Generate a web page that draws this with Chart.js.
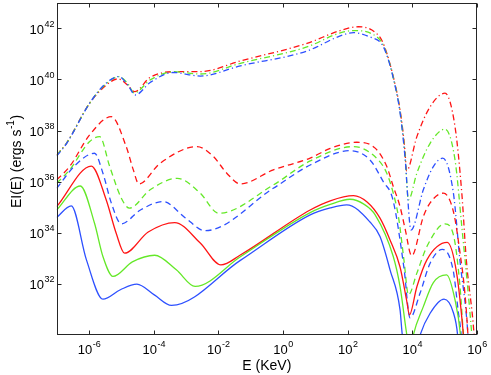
<!DOCTYPE html>
<html>
<head>
<meta charset="utf-8">
<script src="https://cdn.jsdelivr.net/npm/chart.js@4.4.0/dist/chart.umd.min.js"></script>
<style>
  html, body { margin: 0; padding: 0; background: #fff; }
  canvas { display: block; }
</style>
</head>
<body>
<canvas id="chart" width="491" height="375"></canvas>
<script>
// All values are log10: E in KeV, EI(E) in ergs s^-1
const xTicks = [-6, -4, -2, 0, 2, 4, 6];
const yTicks = [32, 34, 36, 38, 40, 42];

// solid
const redSolidE = [-7, -5.93, -5.47, -5.16, -4.90, -4.17, -3.35, -2.56, -1.92, -1.32, 0.84, 1.46, 2.18, 2.6, 3.00, 3.31, 3.62, 3.83, 3.91, 4.14, 4.45, 5.08, 5.37, 5.58, 5.7];
const redSolidL = [35.02, 36.61, 35.29, 33.98, 33.20, 34.03, 34.40, 33.60, 32.74, 33.13, 34.89, 35.25, 35.45, 35.2, 34.57, 33.72, 32.66, 31.31, 30.79, 31.89, 32.94, 33.62, 32.42, 30.0, 28];
const greenSolidE = [-7, -6.27, -5.83, -5.57, -5.26, -4.66, -3.97, -3.30, -2.72, -1.32, 0.84, 1.46, 2.07, 2.5, 2.85, 3.41, 3.62, 3.83, 3.93, 4.03, 4.34, 4.65, 5.06, 5.32, 5.49, 5.6];
const greenSolidL = [34.89, 35.83, 34.37, 33.07, 32.29, 32.86, 33.12, 32.55, 31.90, 33.06, 34.79, 35.11, 35.31, 35.12, 34.70, 33.07, 31.89, 30, 29.3, 30, 31.11, 32.05, 32.35, 31.37, 30, 28];
const blueSolidE = [-7, -6.55, -6.08, -5.57, -5.03, -4.52, -3.98, -3.45, -1.32, 0.84, 1.46, 1.97, 2.69, 3.00, 3.31, 3.62, 3.69, 3.96, 4.24, 4.55, 4.98, 5.27, 5.40, 5.5];
const blueSolidL = [34.6, 35.05, 32.94, 31.40, 31.77, 31.99, 31.57, 31.16, 32.92, 34.70, 34.97, 35.09, 34.42, 33.85, 32.55, 30.98, 30, 28.6, 30, 30.85, 31.40, 30.87, 30, 28];

// dashed
const redDashE = [-7, -6.60, -5.98, -5.31, -4.85, -4.63, -4.46, -3.80, -2.66, -2.15, -1.74, -1.32, -0.30, 0.84, 1.46, 2.28, 2.85, 3.21, 3.41, 3.62, 3.77, 3.98, 4.34, 4.55, 4.96, 5.27, 5.47, 5.63, 5.72, 5.8];
const redDashL = [36.07, 36.59, 37.83, 38.54, 37.37, 36.46, 35.91, 36.72, 37.37, 36.98, 36.33, 35.91, 36.46, 36.92, 37.30, 37.54, 37.31, 36.59, 35.81, 35.02, 34.19, 33.10, 34.63, 35.17, 35.55, 34.83, 33.26, 31.57, 30, 28];
const greenDashE = [-7, -6.60, -5.98, -5.67, -5.36, -5.00, -4.75, -4.11, -3.27, -2.56, -1.99, -0.30, 0.84, 2.18, 2.85, 3.21, 3.41, 3.57, 3.74, 3.88, 4.14, 4.45, 5.01, 5.27, 5.47, 5.58, 5.7];
const greenDashL = [35.94, 36.46, 37.57, 37.76, 36.59, 35.35, 34.96, 35.68, 36.13, 35.55, 34.76, 35.87, 36.81, 37.37, 36.97, 36.33, 35.55, 34.63, 32.94, 31.57, 32.42, 33.46, 34.35, 33.92, 31.96, 30, 28];
const blueDashE = [-7, -6.42, -5.83, -5.57, -5.31, -5.00, -4.41, -3.71, -3.02, -2.41, -0.30, 0.84, 2.07, 2.69, 3.10, 3.40, 3.74, 3.93, 4.24, 4.55, 4.93, 5.27, 5.42, 5.51, 5.6];
const blueDashL = [35.74, 36.65, 37.11, 36.33, 35.16, 34.35, 34.89, 35.22, 34.58, 34.08, 35.74, 36.65, 37.21, 36.85, 36.00, 35.29, 32.63, 30.67, 31.64, 32.81, 33.35, 32.48, 30.92, 30, 28];

// dash-dot
const redDotE = [-7, -6.70, -5.98, -5.50, -5.10, -4.81, -4.59, -4.11, -3.39, -2.56, -1.32, 0.74, 1.77, 2.33, 2.75, 3.05, 3.21, 3.41, 3.62, 3.77, 3.82, 4.14, 4.55, 5.01, 5.32, 5.53, 5.67, 5.91, 6];
const redDotL = [37.04, 37.50, 39.07, 39.74, 40.02, 39.78, 39.52, 40.08, 40.30, 40.30, 40.72, 41.41, 41.91, 42.06, 41.93, 41.54, 41.02, 40.11, 38.80, 37.24, 36.42, 37.76, 38.93, 39.46, 38.15, 35.55, 32.94, 30, 28];
const greenDotE = [-7, -6.70, -5.98, -5.50, -5.08, -4.81, -4.60, -4.11, -3.39, -2.56, -1.32, 0.74, 1.77, 2.23, 2.75, 3.05, 3.21, 3.41, 3.62, 3.77, 3.88, 4.14, 4.55, 5.01, 5.32, 5.53, 5.84, 5.95];
const greenDotL = [37.04, 37.50, 39.07, 39.80, 40.11, 39.85, 39.47, 39.98, 40.30, 40.21, 40.63, 41.27, 41.82, 41.91, 41.78, 41.46, 40.98, 40.08, 38.75, 37.10, 35.29, 36.33, 37.50, 38.05, 36.85, 34.24, 30, 28];
const blueDotE = [-7, -6.70, -5.98, -5.50, -5.08, -4.81, -4.57, -4.11, -3.39, -2.56, -1.32, 0.74, 1.77, 2.18, 2.69, 3.05, 3.21, 3.41, 3.62, 3.77, 3.96, 4.34, 4.65, 4.94, 5.27, 5.47, 5.72, 5.8];
const blueDotL = [37.0, 37.48, 39.07, 39.82, 40.11, 39.80, 39.39, 39.88, 40.27, 40.13, 40.53, 41.11, 41.70, 41.83, 41.66, 41.39, 40.95, 40.05, 38.70, 37.00, 34.11, 35.68, 36.59, 36.92, 35.55, 32.94, 30, 28];

const RED = 'rgb(255,20,20)';
const GREEN = 'rgb(100,232,40)';
const BLUE = 'rgb(45,80,255)';
const DASH = [6, 4];
const DASHDOT = [6, 3, 1.2, 3];

function pts(e, l) { return e.map((x, i) => ({ x, y: l[i] })); }

const series = [
  [blueSolidE, blueSolidL, BLUE, []],
  [greenSolidE, greenSolidL, GREEN, []],
  [redSolidE, redSolidL, RED, []],
  [blueDashE, blueDashL, BLUE, DASH],
  [greenDashE, greenDashL, GREEN, DASH],
  [redDashE, redDashL, RED, DASH],
  [blueDotE, blueDotL, BLUE, DASHDOT],
  [greenDotE, greenDotL, GREEN, DASHDOT],
  [redDotE, redDotL, RED, DASHDOT],
];

const FONT = "'Liberation Sans', Arial, Helvetica, sans-serif";

function power(ctx, exp, x, y, align) {
  // "10" with raised exponent; align 'center' or 'right' at x, baseline y
  ctx.font = '13px ' + FONT;
  const w1 = ctx.measureText('10').width;
  ctx.font = '9px ' + FONT;
  const w2 = ctx.measureText(exp).width;
  const x0 = align === 'center' ? x - (w1 + w2) / 2 : x - w1 - w2;
  ctx.textAlign = 'left';
  ctx.textBaseline = 'alphabetic';
  ctx.font = '13px ' + FONT;
  ctx.fillText('10', x0, y);
  ctx.font = '9px ' + FONT;
  ctx.fillText(exp, x0 + w1 + 0.5, y - 7);
}

const frame = {
  id: 'frame',
  afterDraw(chart) {
    const { ctx, chartArea: a, scales: { x, y } } = chart;
    const L = Math.round(a.left) + 0.5, R = Math.round(a.right) - 0.5;
    const T = Math.round(a.top) + 0.5, B = Math.round(a.bottom) - 0.5;
    ctx.save();
    ctx.strokeStyle = '#262626';
    ctx.lineWidth = 1;
    ctx.strokeRect(L, T, R - L, B - T);
    ctx.beginPath();
    xTicks.forEach(t => {
      const px = Math.round(x.getPixelForValue(t)) + 0.5;
      ctx.moveTo(px, B); ctx.lineTo(px, B - 4);
      ctx.moveTo(px, T); ctx.lineTo(px, T + 4);
    });
    yTicks.forEach(t => {
      const py = Math.round(y.getPixelForValue(t)) + 0.5;
      ctx.moveTo(L, py); ctx.lineTo(L + 4, py);
      ctx.moveTo(R, py); ctx.lineTo(R - 4, py);
    });
    ctx.stroke();

    ctx.fillStyle = '#000';
    xTicks.forEach(t => power(ctx, String(t), x.getPixelForValue(t), 354, 'center'));
    yTicks.forEach(t => power(ctx, String(t), 54, y.getPixelForValue(t) + 5.5, 'right'));

    // axis titles
    ctx.font = '14px ' + FONT;
    ctx.textAlign = 'center';
    ctx.fillText('E (KeV)', (a.left + a.right) / 2, 370);

    ctx.translate(20.5, 162);
    ctx.rotate(-Math.PI / 2);
    const p1 = 'EI(E) (ergs s', p2 = '-1', p3 = ')';
    ctx.font = '14px ' + FONT;
    const w1 = ctx.measureText(p1).width, w3 = ctx.measureText(p3).width;
    ctx.font = '10px ' + FONT;
    const w2 = ctx.measureText(p2).width;
    let cx = -(w1 + w2 + w3) / 2;
    ctx.textAlign = 'left';
    ctx.font = '14px ' + FONT;
    ctx.fillText(p1, cx, 0); cx += w1;
    ctx.font = '10px ' + FONT;
    ctx.fillText(p2, cx + 0.5, -7); cx += w2 + 1;
    ctx.font = '14px ' + FONT;
    ctx.fillText(p3, cx, 0);
    ctx.restore();
  }
};

new Chart(document.getElementById('chart'), {
  type: 'scatter',
  data: {
    datasets: series.map(([e, l, color, dash]) => ({
      data: pts(e, l),
      showLine: true,
      borderColor: color,
      backgroundColor: color,
      borderDash: dash,
      borderWidth: 1.3,
      pointRadius: 0,
      cubicInterpolationMode: 'monotone',
      fill: false
    }))
  },
  options: {
    responsive: false,
    animation: false,
    layout: { padding: { left: 56.7, right: 14, top: 2.7, bottom: 40 } },
    plugins: { legend: { display: false }, tooltip: { enabled: false } },
    scales: {
      x: { type: 'linear', min: -7, max: 6, display: false },
      y: { type: 'linear', min: 30, max: 43, display: false }
    }
  },
  plugins: [frame]
});
</script>
</body>
</html>
